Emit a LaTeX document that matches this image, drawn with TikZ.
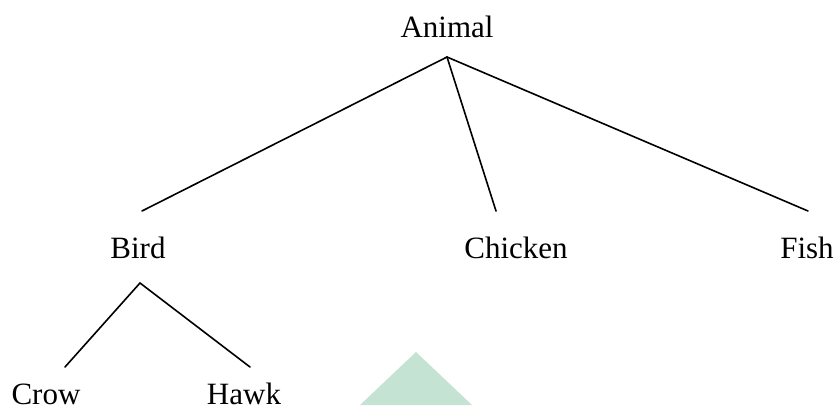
\documentclass[tikz,border=0pt]{standalone}
\usepackage{fontspec}
\setmainfont{Liberation Serif}
\begin{document}
\begin{tikzpicture}[x=1pt,y=-1pt,
  lbl/.style={anchor=base,inner sep=0pt,font=\fontsize{31}{36}\selectfont},
  edge/.style={line width=1.6pt,line cap=round}]
\useasboundingbox (0,0) rectangle (838,405);
% watermark fragment
\fill[fill={rgb,255:red,197;green,227;blue,210}] (360,405) -- (416,352) -- (472,405) -- cycle;
% labels
\node[lbl] (animal) at (447,37) {Animal};
\node[lbl] (bird) at (138,258) {Bird};
\node[lbl] (chicken) at (516,258) {Chicken};
\node[lbl] (fish) at (807,258) {Fish};
\node[lbl] (crow) at (46,404) {Crow};
\node[lbl] (hawk) at (244,404) {Hawk};
% connector ends
\coordinate (atop) at (447,57);
\coordinate (abird) at (142,211);
\coordinate (achicken) at (496,211);
\coordinate (afish) at (808,211);
\coordinate (btop) at (140,283);
\coordinate (bcrow) at (65,367);
\coordinate (bhawk) at (250,367);
\draw[edge] (abird) -- (atop) -- (afish);
\draw[edge] (atop) -- (achicken);
\draw[edge] (bcrow) -- (btop) -- (bhawk);
\end{tikzpicture}
\end{document}
